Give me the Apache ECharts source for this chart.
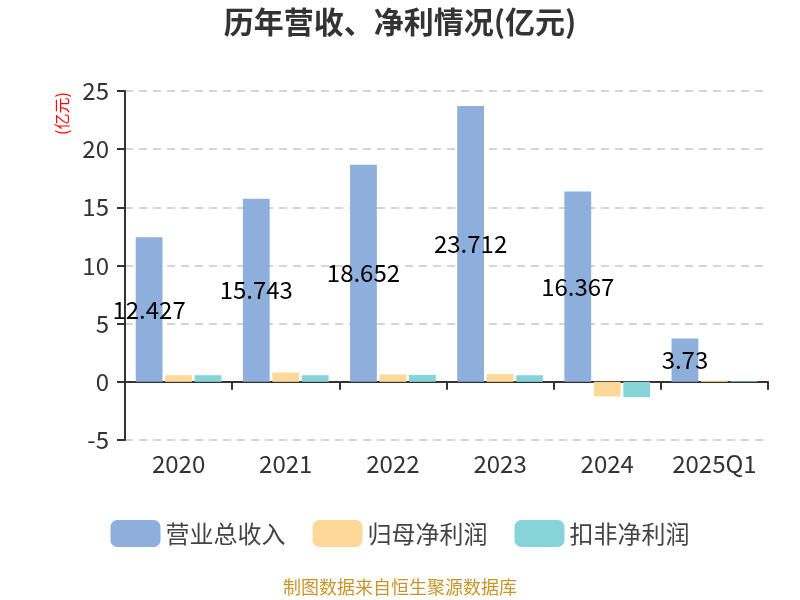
<!DOCTYPE html>
<html><head><meta charset="utf-8">
<script src="https://cdn.jsdelivr.net/npm/echarts@6/dist/echarts.min.js"></script>
<style>html,body{margin:0;padding:0;background:#fff}#c{width:800px;height:600px}</style>
</head><body><div id="c"></div>
<script>
const categories = ['2020','2021','2022','2023','2024','2025Q1'];
const revenue = [12.427, 15.743, 18.652, 23.712, 16.367, 3.73];
const netProfit = [0.57, 0.8, 0.63, 0.66, -1.26, 0.11];
const deductedProfit = [0.57, 0.57, 0.6, 0.57, -1.32, 0.06];
const seriesNames = ['营业总收入','归母净利润','扣非净利润'];
const colors = ['#8eaedb','#fed899','#87d4d8'];
const FONT = '"Noto Sans CJK SC", "Noto Sans", sans-serif';
const chart = echarts.init(document.getElementById('c'));
chart.setOption({
  animation: false,
  color: colors,
  textStyle: {fontFamily: FONT},
  title: {
    text: '历年营收、净利情况(亿元)', left: 'center', top: 2,
    textStyle: {fontSize: 30, fontWeight: 'bold', color: '#333', fontFamily: FONT}
  },
  legend: {
    bottom: 48, left: 'center', itemWidth: 50, itemHeight: 27, itemGap: 27,
    icon: 'roundRect',
    textStyle: {fontSize: 24, color: '#444', fontFamily: FONT},
    data: seriesNames
  },
  graphic: [
    {type: 'text', left: 'center', top: 578,
     style: {text: '制图数据来自恒生聚源数据库', fill: '#c8952c', font: '18px ' + FONT}},
    {type: 'text', x: 54, y: 135, rotation: Math.PI / 2,
     style: {text: '(亿元)', fill: '#ff0000', font: '16px ' + FONT}}
  ],
  grid: {left: 125, right: 32, top: 91, bottom: 160},
  xAxis: {
    type: 'category', data: categories,
    axisLine: {onZero: true, lineStyle: {color: '#333', width: 2}},
    axisTick: {show: true, length: 8, interval: 0, lineStyle: {color: '#333', width: 2}},
    axisLabel: {fontSize: 24, color: '#333', margin: 12, interval: 0, fontFamily: FONT}
  },
  yAxis: {
    type: 'value', min: -5, max: 25, interval: 5,
    axisLine: {show: true, lineStyle: {color: '#333', width: 2}},
    axisTick: {show: true, length: 8, lineStyle: {color: '#333', width: 2}},
    axisLabel: {fontSize: 24, color: '#333', margin: 16, fontFamily: FONT},
    splitLine: {lineStyle: {type: [8, 6], color: '#c8c8c8', width: 1.5}}
  },
  series: [
    {name: seriesNames[0], type: 'bar', data: revenue, barCategoryGap: '20%', barGap: '10%',
     label: {show: true, position: 'inside', color: '#000', fontSize: 24, fontFamily: FONT}},
    {name: seriesNames[1], type: 'bar', data: netProfit, barGap: '10%'},
    {name: seriesNames[2], type: 'bar', data: deductedProfit, barGap: '10%'}
  ]
});
</script></body></html>
